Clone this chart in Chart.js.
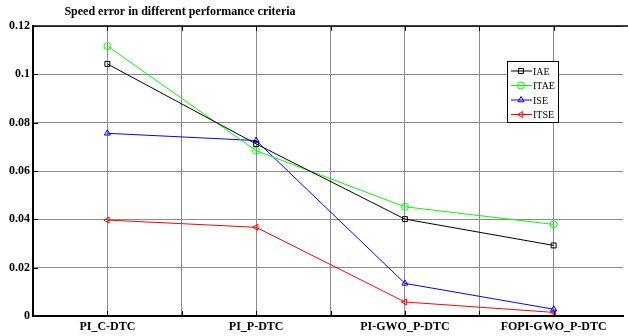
<!DOCTYPE html>
<html>
<head>
<meta charset="utf-8">
<script src="https://cdn.jsdelivr.net/npm/chart.js@4/dist/chart.umd.min.js"></script>
<style>
  html, body { margin: 0; padding: 0; background: #fff; overflow: hidden; }
  #wrap { width: 628px; height: 336px; }
</style>
</head>
<body>
<div id="wrap"><canvas id="myChart" width="628" height="336"></canvas></div>
<script>
const categories = ['PI_C-DTC', 'PI_P-DTC', 'PI-GWO_P-DTC', 'FOPI-GWO_P-DTC'];
const iae = [0.1043, 0.0712, 0.0401, 0.0292];
const itae = [0.1117, 0.0684, 0.0452, 0.0379];
const ise = [0.0756, 0.0726, 0.0135, 0.0028];
const itse = [0.0397, 0.0367, 0.0058, 0.0015];
const yTicks = [0, 0.02, 0.04, 0.06, 0.08, 0.1, 0.12];

const toPoints = arr => arr.map((v, i) => ({ x: i + 1, y: v }));
const FONT = 'Liberation Serif, Times New Roman, serif';

function series(label, values, color, style, rotation) {
    return {
        label: label,
        data: toPoints(values),
        borderColor: color,
        backgroundColor: 'transparent',
        borderWidth: 1,
        pointStyle: style,
        rotation: rotation || 0,
        pointRadius: 3.5,
        pointBorderColor: color,
        pointBorderWidth: 1,
        pointBackgroundColor: 'transparent',
        tension: 0
    };
}

// title, top border, inward ticks, legend box
const decor = {
    id: 'decor',
    afterDraw(chart) {
        const ctx = chart.ctx;
        const a = chart.chartArea;
        const xs = chart.scales.x, ys = chart.scales.y;
        ctx.save();
        // title
        ctx.fillStyle = '#000';
        ctx.font = 'bold 12px ' + FONT;
        ctx.textAlign = 'center';
        ctx.textBaseline = 'middle';
        ctx.fillText('Speed error in different performance criteria', 180, 12);
        // top border
        ctx.strokeStyle = '#000';
        ctx.lineWidth = 1.5;
        ctx.beginPath();
        ctx.moveTo(a.left, a.top);
        ctx.lineTo(628, a.top);
        ctx.stroke();
        // inward tick marks
        ctx.lineWidth = 1;
        ctx.beginPath();
        xs.ticks.forEach(t => {
            const px = Math.round(xs.getPixelForValue(t.value)) + 0.5;
            ctx.moveTo(px, a.bottom); ctx.lineTo(px, a.bottom - 5);
            ctx.moveTo(px, a.top); ctx.lineTo(px, a.top + 5);
        });
        ys.ticks.forEach(t => {
            const py = Math.round(ys.getPixelForValue(t.value)) + 0.5;
            ctx.moveTo(a.left, py); ctx.lineTo(a.left + 5, py);
        });
        ctx.stroke();
        // legend
        const bx = 507, by = 61, bw = 51, bh = 61;
        ctx.fillStyle = '#fff';
        ctx.fillRect(bx, by, bw, bh);
        ctx.strokeStyle = '#000';
        ctx.lineWidth = 1;
        ctx.strokeRect(bx + 0.5, by + 0.5, bw, bh);
        ctx.font = '10px ' + FONT;
        ctx.textAlign = 'left';
        chart.data.datasets.forEach((ds, i) => {
            const y = by + 10 + i * 14.5;
            ctx.strokeStyle = ds.borderColor;
            ctx.lineWidth = 1;
            ctx.beginPath();
            ctx.moveTo(bx + 4, y); ctx.lineTo(bx + 25, y);
            ctx.stroke();
            ctx.fillStyle = 'rgba(0,0,0,0)';
            Chart.helpers.drawPoint(ctx, {
                pointStyle: ds.pointStyle, rotation: ds.rotation, radius: 3.5, borderWidth: 1
            }, bx + 14, y);
            ctx.fillStyle = '#000';
            ctx.fillText(ds.label, bx + 26, y + 1);
        });
        ctx.restore();
    }
};

const chart = new Chart(document.getElementById('myChart').getContext('2d'), {
    type: 'line',
    data: {
        datasets: [
            series('IAE', iae, '#000000', 'rect'),
            series('ITAE', itae, '#00ff00', 'circle'),
            series('ISE', ise, '#0000ff', 'triangle'),
            series('ITSE', itse, '#ff0000', 'triangle', -90)
        ]
    },
    options: {
        responsive: false,
        animation: false,
        layout: { padding: { top: 26, left: 0, right: 0, bottom: 0 } },
        plugins: { legend: { display: false }, tooltip: { enabled: false } },
        scales: {
            x: {
                type: 'linear',
                min: 0.5,
                max: 4.466,
                afterBuildTicks: s => { s.ticks = [1, 1.5, 2, 2.5, 3, 3.5, 4].map(v => ({ value: v })); },
                afterFit: s => { s.height = 20; },
                grid: { color: '#8c8c8c', lineWidth: 1, drawTicks: false },
                border: { color: '#000', width: 2 },
                ticks: {
                    autoSkip: false, maxRotation: 0, padding: 4, color: '#000',
                    font: { family: FONT, size: 12, weight: 'bold' },
                    callback: v => Number.isInteger(v) ? categories[v - 1] : ''
                }
            },
            y: {
                min: 0,
                max: 0.12,
                afterBuildTicks: s => { s.ticks = yTicks.map(v => ({ value: v })); },
                afterFit: s => { s.width = 33; },
                grid: { color: '#8c8c8c', lineWidth: 1, drawTicks: false },
                border: { color: '#000', width: 2 },
                ticks: {
                    padding: 3, color: '#000',
                    font: { family: FONT, size: 12, weight: 'bold' },
                    callback: v => String(Number(v.toFixed(2)))
                }
            }
        }
    },
    plugins: [decor]
});
</script>
</body>
</html>
